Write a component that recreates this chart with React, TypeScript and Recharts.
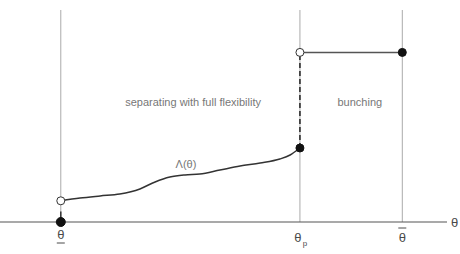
import {
  ComposedChart,
  Line,
  XAxis,
  YAxis,
  ReferenceLine,
  ReferenceDot,
  Label,
} from 'recharts';

// positions along the theta axis (arbitrary units, domain 0..10)
const thetaLow = 1.36;
const thetaP = 6.71;
const thetaBar = 9.0;
const tickValues = [thetaLow, thetaP, thetaBar];

// Λ(θ) curve
const curveX = [1.36, 1.79, 2.24, 2.68, 3.13, 3.47, 3.8, 4.14, 4.47, 4.92, 5.37, 5.82, 6.26, 6.49, 6.71];
const curveY = [1.0, 1.13, 1.23, 1.32, 1.56, 1.89, 2.12, 2.22, 2.26, 2.45, 2.64, 2.78, 2.97, 3.16, 3.49];

const bunchLevel = 8.0;
const lambdaStart = 1.0;
const lambdaEnd = 3.49;

const curveData = curveX.map((x, i) => ({ x, y: curveY[i] }));
const jumpData = [
  { x: thetaP, y: lambdaEnd },
  { x: thetaP, y: bunchLevel },
];
const bunchData = [
  { x: thetaP, y: bunchLevel },
  { x: thetaBar, y: bunchLevel },
];

const font = '"Liberation Sans", Arial, sans-serif';
const labelColor = '#4a4a4a';

const ThetaTick = ({ x, y, payload }: any) => {
  const v = payload.value;
  const base = y + 16;
  if (v === thetaLow) {
    return (
      <g>
        <text x={x} y={base + 1} textAnchor="middle" fontFamily={font} fontSize={13} fill={labelColor} stroke="none">θ</text>
        <line x1={x - 4} x2={x + 4} y1={base + 5} y2={base + 5} stroke={labelColor} strokeWidth={1} />
      </g>
    );
  }
  if (v === thetaP) {
    return (
      <g>
        <text x={x - 2} y={base + 4} textAnchor="middle" fontFamily={font} fontSize={13} fill={labelColor} stroke="none">θ</text>
        <text x={x + 5} y={base + 8} textAnchor="middle" fontFamily={font} fontSize={8} fill={labelColor} stroke="none">p</text>
      </g>
    );
  }
  return (
    <g>
      <text x={x} y={base + 4} textAnchor="middle" fontFamily={font} fontSize={13} fill={labelColor} stroke="none">θ</text>
      <line x1={x - 4} x2={x + 4} y1={base - 10} y2={base - 10} stroke={labelColor} strokeWidth={1} />
    </g>
  );
};

const textLabel = (value: string, size = 11) => (props: any) => {
  const { viewBox } = props;
  return (
    <text
      x={viewBox.x}
      y={viewBox.y}
      textAnchor="middle"
      dominantBaseline="central"
      fontFamily={font}
      fontSize={size}
      fill="#777"
    >
      {value}
    </text>
  );
};

export default function App() {
  return (
    <div style={{ position: 'absolute', left: 0, top: 0, background: '#fff' }}>
      <ComposedChart width={460} height={254} margin={{ top: 10, right: 13, bottom: 0, left: 0 }}>
        <XAxis
          type="number"
          dataKey="x"
          domain={[0, 10]}
          ticks={tickValues}
          tick={<ThetaTick />}
          tickLine={false}
          tickSize={0}
          tickMargin={0}
          axisLine={{ stroke: '#555', strokeWidth: 1.2 }}
          height={32}
          allowDataOverflow
        />
        <YAxis type="number" dataKey="y" domain={[0, 10]} hide />

        {tickValues.map((t) => (
          <ReferenceLine key={t} x={t} stroke="#aaa" strokeWidth={1} />
        ))}
        <ReferenceLine
          segment={[
            { x: thetaLow, y: 0 },
            { x: thetaLow, y: 0.5 },
          ]}
          stroke="#333"
          strokeWidth={1.5}
        />

        <Line
          data={curveData}
          dataKey="y"
          type="monotone"
          stroke="#333"
          strokeWidth={1.5}
          dot={false}
          isAnimationActive={false}
        />
        <Line
          data={jumpData}
          dataKey="y"
          type="linear"
          stroke="#222"
          strokeWidth={1.5}
          strokeDasharray="5 3"
          dot={false}
          isAnimationActive={false}
        />
        <Line
          data={bunchData}
          dataKey="y"
          type="linear"
          stroke="#555"
          strokeWidth={1.5}
          dot={false}
          isAnimationActive={false}
        />

        <ReferenceDot x={thetaLow} y={0} r={4.5} fill="#111" stroke="#111" />
        <ReferenceDot x={thetaLow} y={lambdaStart} r={4} fill="#fff" stroke="#333" strokeWidth={1} />
        <ReferenceDot x={thetaP} y={lambdaEnd} r={4} fill="#111" stroke="#111" />
        <ReferenceDot x={thetaP} y={bunchLevel} r={4} fill="#fff" stroke="#333" strokeWidth={1} />
        <ReferenceDot x={thetaBar} y={bunchLevel} r={4} fill="#111" stroke="#111" />

        <ReferenceDot x={4.32} y={5.66} r={0} stroke="none" fill="none">
          <Label content={textLabel('separating with full flexibility')} />
        </ReferenceDot>
        <ReferenceDot x={8.05} y={5.66} r={0} stroke="none" fill="none">
          <Label content={textLabel('bunching')} />
        </ReferenceDot>
        <ReferenceDot x={4.16} y={2.74} r={0} stroke="none" fill="none">
          <Label content={textLabel('Λ(θ)')} />
        </ReferenceDot>
        <ReferenceDot x={10} y={0} r={0} stroke="none" fill="none">
          <Label
            content={(props: any) => (
              <text
                x={props.viewBox.x + 4}
                y={props.viewBox.y}
                dominantBaseline="central"
                fontFamily={font}
                fontSize={13}
                fill={labelColor}
              >
                θ
              </text>
            )}
          />
        </ReferenceDot>
      </ComposedChart>
    </div>
  );
}
